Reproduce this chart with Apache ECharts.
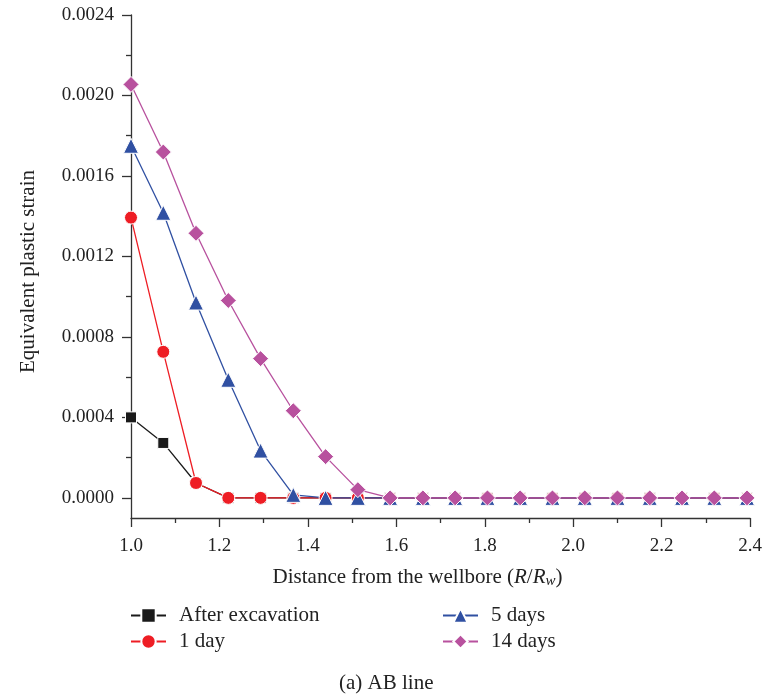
<!DOCTYPE html>
<html>
<head>
<meta charset="utf-8">
<script src="https://cdn.jsdelivr.net/npm/echarts@6/dist/echarts.min.js"></script>
<style>
  html, body { margin: 0; padding: 0; background: #fff; }
  #chart { width: 765px; height: 695px; }
</style>
</head>
<body>
<div id="chart"></div>
<script>
// Radial distance from the wellbore, normalised by the wellbore radius (R/Rw)
const distance = [1.000, 1.073, 1.147, 1.220, 1.293, 1.367, 1.440, 1.513, 1.586, 1.660,
                  1.733, 1.806, 1.880, 1.953, 2.026, 2.100, 2.173, 2.246, 2.319, 2.393];

// Equivalent plastic strain along the AB line
const afterExcavation = [0.000400, 0.000273, 0.000074, 0, 0, 0, 0, 0, 0, 0, 0, 0, 0, 0, 0, 0, 0, 0, 0, 0];
const oneDay          = [0.001393, 0.000726, 0.000074, 0, 0, 0, 0, 0, 0, 0, 0, 0, 0, 0, 0, 0, 0, 0, 0, 0];
const fiveDays        = [0.001750, 0.001417, 0.000971, 0.000587, 0.000235, 0.000015, 0, 0, 0, 0, 0, 0, 0, 0, 0, 0, 0, 0, 0, 0];
const fourteenDays    = [0.002055, 0.001719, 0.001315, 0.000981, 0.000692, 0.000433, 0.000205, 0.000041, 0, 0, 0, 0, 0, 0, 0, 0, 0, 0, 0, 0];

const seriesNames = ['After excavation', '1 day', '5 days', '14 days'];

// Axis ticks and labels
const yLabelValues = [0, 0.0004, 0.0008, 0.0012, 0.0016, 0.0020, 0.0024];
const yMinorValues = [0.0002, 0.0006, 0.0010, 0.0014, 0.0018, 0.0022];

const FONT = '"Liberation Serif", "DejaVu Serif", serif';
const AXIS_COLOR = '#333';
const TEXT_COLOR = '#222';
const TEXT_SIZE = 21;
const TICK_SIZE = 19;

function pairs(values) {
  return distance.map((x, i) => [x, values[i]]);
}

function lineSeries(name, values, color, symbol, size) {
  return {
    name: name,
    type: 'line',
    data: pairs(values),
    symbol: symbol,
    symbolSize: size,
    showAllSymbol: true,
    clip: false,
    lineStyle: { color: color, width: 1.3 },
    itemStyle: { color: color, borderColor: '#fff', borderWidth: 1 },
    emphasis: { disabled: true },
    animation: false
  };
}

function legendColumn(names, left) {
  return {
    data: names,
    orient: 'vertical',
    left: left,
    top: 605,
    padding: 0,
    itemWidth: 35,
    itemHeight: 18,
    itemGap: 5,
    textStyle: { fontFamily: FONT, fontSize: TEXT_SIZE, color: TEXT_COLOR, padding: [0, 0, 0, 8] }
  };
}

const chart = echarts.init(document.getElementById('chart'), null, { renderer: 'canvas' });

chart.setOption({
  backgroundColor: '#fff',
  animation: false,
  textStyle: { fontFamily: FONT },
  title: {
    text: '(a) AB line',
    left: 339,
    top: 673,
    padding: 0,
    textStyle: { fontFamily: FONT, fontSize: TEXT_SIZE, fontWeight: 'normal', color: TEXT_COLOR }
  },
  legend: [
    legendColumn(['After excavation', '1 day'], 130),
    legendColumn(['5 days', '14 days'], 442)
  ],
  grid: { left: 131, right: 14, top: 15, bottom: 177, containLabel: false },
  xAxis: [
    {
      type: 'value',
      min: 1.0,
      max: 2.4,
      interval: 0.2,
      name: '{n|Distance from the wellbore (}{i|R}{n|/}{i|R}{s|w}{n|)}',
      nameLocation: 'middle',
      nameGap: 47,
      nameTextStyle: {
        padding: [0, 46, 0, 0],
        rich: {
          n: { fontFamily: FONT, fontSize: TEXT_SIZE, color: TEXT_COLOR },
          i: { fontFamily: FONT, fontSize: TEXT_SIZE, fontStyle: 'italic', color: TEXT_COLOR },
          s: { fontFamily: FONT, fontSize: 15, fontStyle: 'italic', color: TEXT_COLOR, padding: [9, 0, 0, 0] }
        }
      },
      axisLine: { show: true, onZero: false, lineStyle: { color: AXIS_COLOR, width: 1.3 } },
      axisTick: { show: true, inside: false, length: 9, lineStyle: { color: AXIS_COLOR, width: 1.3 } },
      minorTick: { show: true, splitNumber: 2, length: 5, lineStyle: { color: AXIS_COLOR, width: 1.3 } },
      axisLabel: {
        margin: 19,
        fontFamily: FONT,
        fontSize: TICK_SIZE,
        color: TEXT_COLOR,
        formatter: v => v.toFixed(1)
      },
      splitLine: { show: false }
    }
  ],
  yAxis: [
    {
      type: 'value',
      min: -0.0001,
      max: 0.0024,
      name: 'Equivalent plastic strain',
      nameLocation: 'middle',
      nameGap: 92,
      nameTextStyle: { fontFamily: FONT, fontSize: TEXT_SIZE, color: TEXT_COLOR, padding: [0, 10, 0, 0] },
      axisLine: { show: true, onZero: false, lineStyle: { color: AXIS_COLOR, width: 1.3 } },
      axisTick: { show: true, inside: false, length: 9, customValues: yLabelValues, lineStyle: { color: AXIS_COLOR, width: 1.3 } },
      axisLabel: {
        margin: 17,
        fontFamily: FONT,
        fontSize: TICK_SIZE,
        color: TEXT_COLOR,
        customValues: yLabelValues,
        formatter: v => v.toFixed(4)
      },
      splitLine: { show: false }
    },
    {
      // minor ticks between the labelled values
      type: 'value',
      position: 'left',
      min: -0.0001,
      max: 0.0024,
      axisLine: { show: false },
      axisTick: { show: true, inside: false, length: 5, customValues: yMinorValues, lineStyle: { color: AXIS_COLOR, width: 1.3 } },
      axisLabel: { show: false },
      splitLine: { show: false }
    }
  ],
  series: [
    lineSeries(seriesNames[0], afterExcavation, '#1a1a1a', 'rect', 11),
    lineSeries(seriesNames[1], oneDay, '#ee1d24', 'circle', 13),
    lineSeries(seriesNames[2], fiveDays, '#3050a2', 'triangle', 15),
    lineSeries(seriesNames[3], fourteenDays, '#b8519e', 'diamond', 16)
  ]
});
</script>
</body>
</html>
